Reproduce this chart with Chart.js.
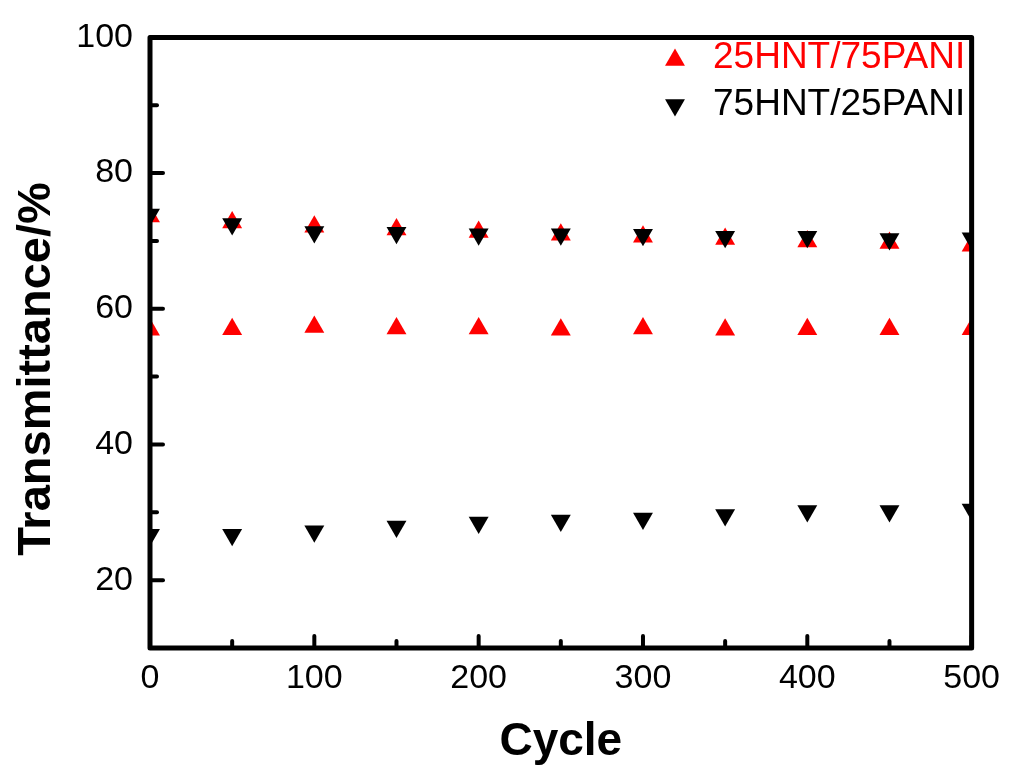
<!DOCTYPE html>
<html>
<head>
<meta charset="utf-8">
<script src="https://cdn.jsdelivr.net/npm/chart.js@4/dist/chart.umd.min.js"></script>
<style>
  html, body { margin: 0; padding: 0; background: #fff; }
  #wrap { width: 1010px; height: 769px; }
</style>
</head>
<body>
<div id="wrap"><canvas id="myChart" width="1010" height="769"></canvas></div>
<script>
// cycles measured
const cycles = [0, 50, 100, 150, 200, 250, 300, 350, 400, 450, 500];

// 25HNT/75PANI: two rows of points
const redUpper = [73.6, 72.7, 72.1, 71.7, 71.3, 70.9, 70.6, 70.3, 69.9, 69.7, 69.3];
const redLower = [56.9, 57.0, 57.3, 57.1, 57.1, 56.9, 57.1, 56.9, 57.0, 57.0, 57.0];

// 75HNT/25PANI
const blackUpper = [73.9, 72.5, 71.3, 71.2, 71.0, 71.0, 70.9, 70.6, 70.6, 70.3, 70.4];
const blackLower = [26.7, 26.7, 27.2, 27.9, 28.5, 28.8, 29.1, 29.6, 30.2, 30.2, 30.4];

const seriesLabels = ['25HNT/75PANI', '75HNT/25PANI'];
const seriesColors = ['#ff0000', '#000000'];

const xTicks = [0, 100, 200, 300, 400, 500];
const xMinor = [50, 150, 250, 350, 450];
const yTicks = [20, 40, 60, 80, 100];
const yMinor = [30, 50, 70, 90];

const FONT = '"Liberation Sans", Arial, sans-serif';

function pts(ys) {
  return cycles.map((c, i) => ({ x: c, y: ys[i] }));
}

// frame, inward ticks, y title and the legend inside the plot
const framePlugin = {
  id: 'frame',
  afterDatasetsDraw(chart) {
    const ctx = chart.ctx;
    const a = chart.chartArea;
    const xs = chart.scales.x, ys = chart.scales.y;
    ctx.save();
    ctx.strokeStyle = '#000';
    ctx.lineCap = 'round';
    ctx.lineWidth = 4;
    xTicks.forEach(v => {
      const px = xs.getPixelForValue(v);
      ctx.beginPath(); ctx.moveTo(px, a.bottom); ctx.lineTo(px, a.bottom - 12); ctx.stroke();
    });
    xMinor.forEach(v => {
      const px = xs.getPixelForValue(v);
      ctx.beginPath(); ctx.moveTo(px, a.bottom); ctx.lineTo(px, a.bottom - 7); ctx.stroke();
    });
    yTicks.forEach(v => {
      const py = ys.getPixelForValue(v);
      ctx.beginPath(); ctx.moveTo(a.left, py); ctx.lineTo(a.left + 13, py); ctx.stroke();
    });
    yMinor.forEach(v => {
      const py = ys.getPixelForValue(v);
      ctx.beginPath(); ctx.moveTo(a.left, py); ctx.lineTo(a.left + 7, py); ctx.stroke();
    });
    ctx.lineCap = 'butt';
    ctx.lineJoin = 'round';
    ctx.lineWidth = 5;
    ctx.strokeRect(a.left, a.top, a.right - a.left, a.bottom - a.top);

    // y axis title, sitting a little below the middle as in the original
    ctx.fillStyle = '#000';
    ctx.font = 'bold 47px ' + FONT;
    ctx.textAlign = 'center';
    ctx.textBaseline = 'alphabetic';
    ctx.translate(50, 369);
    ctx.rotate(-Math.PI / 2);
    ctx.fillText('Transmittance/%', 0, 0);
    ctx.setTransform(1, 0, 0, 1, 0, 0);

    // legend
    ctx.font = '37px ' + FONT;
    ctx.textAlign = 'left';
    chart.data.datasets.forEach((ds, i) => {
      ctx.fillStyle = ds.backgroundColor;
      ctx.strokeStyle = ds.backgroundColor;
      Chart.helpers.drawPoint(ctx, {
        pointStyle: 'triangle', radius: 11.5, rotation: ds.pointRotation, borderWidth: 0
      }, 675, 60 + i * 45);
      ctx.fillText(ds.label, 713, 68 + i * 47);
    });
    ctx.restore();
  }
};

new Chart(document.getElementById('myChart'), {
  type: 'scatter',
  data: {
    datasets: [{
      label: seriesLabels[0],
      data: pts(redUpper).concat(pts(redLower)),
      backgroundColor: seriesColors[0],
      borderColor: seriesColors[0],
      borderWidth: 0,
      pointStyle: 'triangle',
      pointRadius: 11.5,
      pointHoverRadius: 11.5,
      pointRotation: 0,
      order: 1
    }, {
      label: seriesLabels[1],
      data: pts(blackUpper).concat(pts(blackLower)),
      backgroundColor: seriesColors[1],
      borderColor: seriesColors[1],
      borderWidth: 0,
      pointStyle: 'triangle',
      pointRadius: 11.5,
      pointHoverRadius: 11.5,
      pointRotation: 180,
      order: 0
    }]
  },
  options: {
    responsive: false,
    animation: false,
    events: [],
    layout: { padding: { top: 34, right: 34, left: 0, bottom: 0 } },
    plugins: {
      legend: { display: false },
      tooltip: { enabled: false }
    },
    scales: {
      x: {
        type: 'linear',
        min: 0, max: 500,
        afterBuildTicks: s => { s.ticks = xTicks.map(v => ({ value: v })); },
        afterFit: s => { s.height = 121; },
        grid: { display: false, drawTicks: false },
        border: { display: false },
        ticks: { color: '#000', padding: 10, font: { family: FONT, size: 34 } },
        title: {
          display: true, text: 'Cycle', color: '#000',
          padding: { top: 0, bottom: -1 },
          font: { family: FONT, size: 46, weight: 'bold' }
        }
      },
      y: {
        type: 'linear',
        min: 10, max: 100,
        afterBuildTicks: s => { s.ticks = yTicks.map(v => ({ value: v })); },
        afterFit: s => { s.width = 150; },
        grid: { display: false, drawTicks: false },
        border: { display: false },
        ticks: { color: '#000', padding: 17, font: { family: FONT, size: 34 } },
        title: { display: false }
      }
    }
  },
  plugins: [framePlugin]
});
</script>
</body>
</html>
